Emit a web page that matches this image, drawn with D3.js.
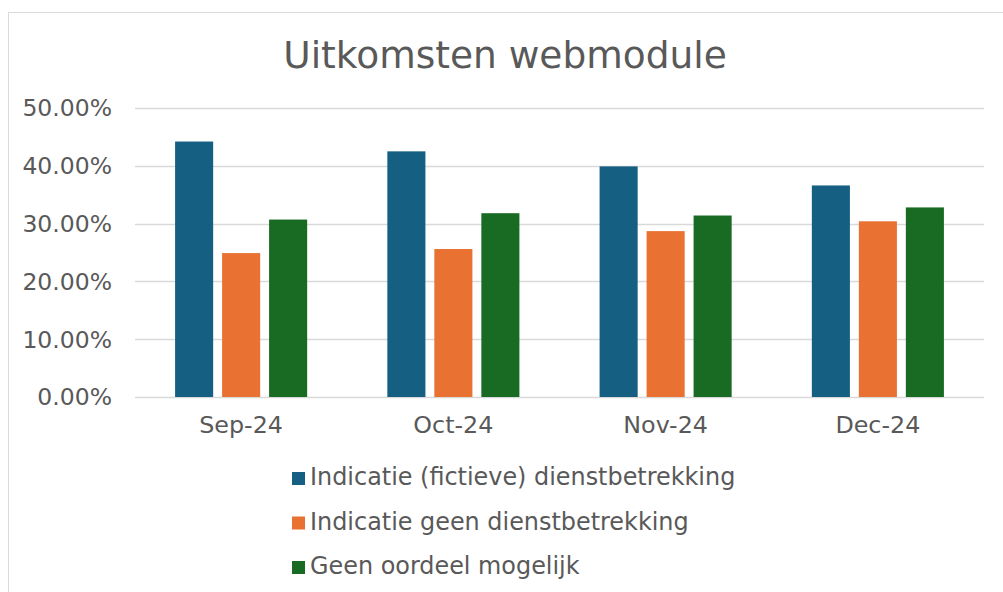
<!DOCTYPE html>
<html>
<head>
<meta charset="utf-8">
<script src="https://cdn.jsdelivr.net/npm/d3@7"></script>
<style>
    html, body { margin: 0; padding: 0; background: #fff; }
    svg { display: block; font-family: "DejaVu Sans", sans-serif; }
</style>
</head>
<body>
<svg id="chart" width="1003" height="592"></svg>
<script>
(function () {
    'use strict';

    const months = ["Sep-24", "Oct-24", "Nov-24", "Dec-24"];
    const seriesNames = [
        "Indicatie (fictieve) dienstbetrekking",
        "Indicatie geen dienstbetrekking",
        "Geen oordeel mogelijk"
    ];
    const fictieve = [0.442, 0.425, 0.399, 0.366];
    const geen = [0.249, 0.256, 0.287, 0.304];
    const oordeel = [0.307, 0.318, 0.314, 0.328];
    const yTicks = [0, 0.1, 0.2, 0.3, 0.4, 0.5];
    const colors = ["#156082", "#E97132", "#196B24"];

    const values = [fictieve, geen, oordeel];
    const rows = months.map((m, i) => ({
        month: m,
        vals: seriesNames.map((s, j) => ({ key: s, value: values[j][i] }))
    }));

    const svg = d3.select("#chart");
    const textColor = "#595959";
    const gridColor = "#D9D9D9";
    const fontSize = 23.5;

    // chart frame
    svg.append("rect")
        .attr("x", 8.5).attr("y", 12.5)
        .attr("width", 1010).attr("height", 600)
        .attr("fill", "#fff")
        .attr("stroke", gridColor);

    svg.append("text")
        .attr("x", 505).attr("y", 68)
        .attr("text-anchor", "middle")
        .attr("fill", textColor)
        .style("font-size", "37.5px")
        .text("Uitkomsten webmodule");

    const x0 = d3.scaleBand().domain(months).range([135, 984]);
    const x1 = d3.scaleBand().domain(seriesNames)
        .range([0, x0.bandwidth()])
        .paddingInner(0.19)
        .paddingOuter(0.853);
    const y = d3.scaleLinear().domain([0, 0.5]).range([397, 108]);
    const color = d3.scaleOrdinal().domain(seriesNames).range(colors);
    const fmt = d => d3.format(".2f")(d * 100) + "%";

    // gridlines
    svg.append("g")
        .selectAll("line")
        .data(yTicks)
        .join("line")
        .attr("x1", 135).attr("x2", 984)
        .attr("y1", d => Math.round(y(d)) + 0.5)
        .attr("y2", d => Math.round(y(d)) + 0.5)
        .attr("stroke", gridColor)
        .attr("stroke-width", 1.3);

    svg.append("g")
        .selectAll("text")
        .data(yTicks)
        .join("text")
        .attr("x", 112)
        .attr("y", d => y(d))
        .attr("dy", "0.36em")
        .attr("text-anchor", "end")
        .attr("fill", textColor)
        .style("font-size", fontSize + "px")
        .text(fmt);

    const groups = svg.append("g")
        .selectAll("g")
        .data(rows)
        .join("g")
        .attr("transform", d => `translate(${x0(d.month)},0)`);

    groups.selectAll("rect")
        .data(d => d.vals)
        .join("rect")
        .attr("x", d => x1(d.key))
        .attr("y", d => y(d.value))
        .attr("width", x1.bandwidth())
        .attr("height", d => y(0) - y(d.value))
        .attr("fill", d => color(d.key));

    svg.append("g")
        .selectAll("text")
        .data(months)
        .join("text")
        .attr("x", d => x0(d) + x0.bandwidth() / 2)
        .attr("y", 433)
        .attr("text-anchor", "middle")
        .attr("fill", textColor)
        .style("font-size", "23.8px")
        .text(d => d);

    // legend
    const legend = svg.append("g")
        .selectAll("g")
        .data(seriesNames)
        .join("g")
        .attr("transform", (d, i) => `translate(292,${485 + i * 44.5})`);

    legend.append("rect")
        .attr("x", 0).attr("y", -13)
        .attr("width", 13).attr("height", 13)
        .attr("fill", d => color(d));

    legend.append("text")
        .attr("x", 18).attr("y", 0)
        .attr("fill", textColor)
        .style("font-size", "23.9px")
        .text(d => d);
}());
</script>
</body>
</html>
